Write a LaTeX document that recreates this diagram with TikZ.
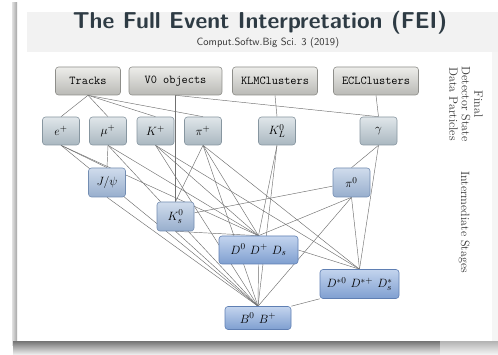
\documentclass[tikz,border=0pt]{standalone}
\usetikzlibrary{backgrounds}
\definecolor{detT}{HTML}{EDEDEA}
\definecolor{detBo}{HTML}{B9B9B5}
\definecolor{detD}{HTML}{8E8E8A}
\definecolor{fspT}{HTML}{E0E6EA}
\definecolor{fspBo}{HTML}{A9B7C0}
\definecolor{fspD}{HTML}{8796A0}
\definecolor{intT}{HTML}{D0DCEC}
\definecolor{intBo}{HTML}{97AECD}
\definecolor{intD}{HTML}{738DB2}
\definecolor{cmpT}{HTML}{C3D4EE}
\definecolor{cmpBo}{HTML}{7F9FD0}
\definecolor{cmpD}{HTML}{5F7FB3}
\definecolor{edgeC}{HTML}{707070}
\definecolor{titleC}{HTML}{2E3B44}
\definecolor{bandC}{HTML}{F2F2F2}
\begin{document}
\begin{tikzpicture}[x=1pt,y=-1pt,
  base/.style={rounded corners=3pt, line width=0.6pt, inner sep=0pt, minimum height=28pt},
  detbox/.style={base, draw=detD, top color=detT, bottom color=detBo, font=\fontsize{12}{12}\selectfont\ttfamily},
  fspbox/.style={base, draw=fspD, top color=fspT, bottom color=fspBo, minimum width=37pt, font=\fontsize{13}{13}\selectfont},
  intbox/.style={base, draw=intD, top color=intT, bottom color=intBo, minimum width=37pt, minimum height=29pt, font=\fontsize{13}{13}\selectfont},
  cmpbox/.style={base, draw=cmpD, top color=cmpT, bottom color=cmpBo, font=\fontsize{13}{13}\selectfont},
  ed/.style={draw=edgeC, line width=0.45pt},
  sidelabel/.style={rotate=-90, align=center, font=\fontsize{12}{12.5}\selectfont, text=black!80}]
\useasboundingbox (0,0) rectangle (498,355);
% title
\node[font=\fontsize{23}{26}\selectfont\sffamily\bfseries, text=titleC] (title) at (260,23) {The Full Event Interpretation (FEI)};
\node[font=\fontsize{10.5}{12}\selectfont\sffamily, text=black!80] (sub) at (268,43) {Comput.Softw.Big Sci. 3 (2019)};
% detector data
\node[detbox, minimum width=65pt] (tracks) at (88,81) {Tracks};
\node[detbox, minimum width=93pt] (vzero) at (175.5,81) {V0 objects};
\node[detbox, minimum width=85pt] (klm) at (275,81) {KLMClusters};
\node[detbox, minimum width=85pt] (ecl) at (376,81) {ECLClusters};
% final state particles
\node[fspbox] (e) at (61,131) {$e^+$};
\node[fspbox] (mu) at (108,131) {$\mu^+$};
\node[fspbox] (K) at (155.5,131) {$K^+$};
\node[fspbox] (pi) at (203,131) {$\pi^+$};
\node[fspbox] (KL) at (277,131) {$K_L^0$};
\node[fspbox] (gam) at (378.5,131) {$\gamma$};
% intermediate
\node[intbox] (jpsi) at (107,182.5) {$J/\psi$};
\node[intbox] (pio) at (351.5,182.5) {$\pi^0$};
\node[intbox] (Ks) at (175.5,216.5) {$K_s^0$};
\node[cmpbox, minimum width=79pt] (D) at (258.5,250) {$D^0\ D^+\ D_s$};
\node[cmpbox, minimum width=79pt, minimum height=29pt] (Dst) at (359.5,284) {$D^{*0}\ D^{*+}\ D_s^*$};
\node[cmpbox, minimum width=66pt, minimum height=23pt] (B) at (258,318) {$B^0\ B^+$};
% side labels
\node[sidelabel] (fsplab) at (466,104) {Final\\Detector State\\Data Particles};
\node[sidelabel] (intlab) at (464,222) {Intermediate Stages};
\begin{scope}[on background layer]
% frame
\fill[white] (0,0) rectangle (498,355);
\fill[bandC] (27,12) rectangle (498,52);
\fill[black!4] (492,52) rectangle (498,341);
\fill[left color=black!12, right color=black!35] (12,3) rectangle (17,345);
\fill[top color=black!55, bottom color=black!8] (13,341) rectangle (440,354);
\fill[top color=black!30, bottom color=black!5] (440,341) rectangle (498,354);
% connectors
\foreach \a/\b in {tracks/e, tracks/mu, tracks/K, tracks/pi, vzero/Ks, vzero/gam, klm/KL, ecl/gam,
  e/jpsi, mu/jpsi, e/D, e/B, mu/D, mu/B,
  K/D, K/B, K/Dst, pi/Ks, pi/D, pi/Dst, pi/B,
  KL/D, KL/B, gam/pio, gam/Dst,
  pio/D, pio/Dst, pio/B, jpsi/B, Ks/D, Ks/B, D/B}
  \draw[ed] (\a.south) -- (\b.north);
\draw[ed] (pio) -- (Ks);
\draw[ed] (D.east) -- (Dst.north);
\draw[ed] (Dst.south west) -- (B.north east);
\end{scope}
\end{tikzpicture}
\end{document}
